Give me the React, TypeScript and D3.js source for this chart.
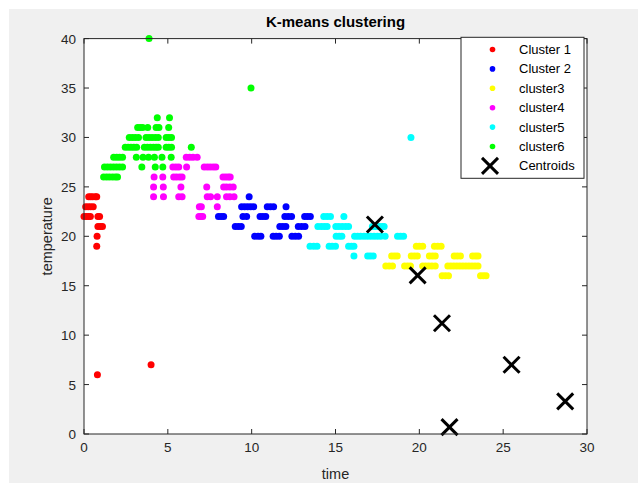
import React from "react";
import * as d3 from "d3";

// Cluster members as [time, temperature]
const cluster1: [number, number][] = [
  [0.28, 24], [0.4, 24], [0.52, 24], [0.68, 24], [0.76, 24],
  [0.1, 23], [0.25, 23], [0.4, 23], [0.55, 23],
  [0.0, 22], [0.13, 22], [0.26, 22], [0.38, 22], [0.83, 22], [0.93, 22],
  [0.83, 21], [0.97, 21], [1.1, 21],
  [0.78, 20], [0.76, 19], [0.8, 6], [4.0, 7],
];
const cluster2: [number, number][] = [
  [9.85, 24],
  [9.4, 23], [9.58, 23], [9.76, 23], [9.94, 23], [10.12, 23], [10.93, 23], [11.12, 23], [11.31, 23], [12.05, 23],
  [8.02, 22], [8.18, 22], [8.33, 22], [9.48, 22], [9.7, 22], [10.5, 22], [10.67, 22], [10.84, 22],
  [11.98, 22], [12.18, 22], [12.38, 22], [13.16, 22], [13.33, 22], [13.5, 22],
  [9.02, 21], [9.2, 21], [9.38, 21], [11.68, 21], [11.86, 21], [12.04, 21], [12.78, 21], [12.98, 21], [13.18, 21],
  [10.18, 20], [10.38, 20], [10.55, 20], [11.28, 20], [11.46, 20], [11.65, 20], [12.4, 20], [12.6, 20], [12.8, 20],
];
const cluster3: [number, number][] = [
  [19.82, 19], [20.0, 19], [20.2, 19], [20.9, 19], [21.1, 19], [21.3, 19],
  [18.35, 18], [18.52, 18], [18.68, 18], [19.52, 18], [19.7, 18], [19.88, 18], [20.6, 18], [20.78, 18], [20.95, 18],
  [22.08, 18], [22.26, 18], [22.45, 18], [23.18, 18], [23.35, 18], [23.5, 18],
  [18.0, 17], [18.2, 17], [18.4, 17], [19.12, 17], [19.3, 17], [19.47, 17], [20.2, 17], [20.38, 17], [20.56, 17],
  [20.75, 17], [20.95, 17], [21.7, 17], [21.88, 17], [22.06, 17], [22.24, 17], [22.42, 17], [22.6, 17], [22.78, 17],
  [22.96, 17], [23.14, 17], [23.32, 17], [23.5, 17],
  [21.36, 16], [21.55, 16], [21.74, 16], [23.65, 16], [23.82, 16], [23.98, 16],
];
const cluster4: [number, number][] = [
  [6.1, 28], [6.3, 28], [6.5, 28], [6.75, 28],
  [5.3, 27], [5.48, 27], [5.65, 27], [6.12, 27], [7.17, 27], [7.35, 27], [7.52, 27], [7.7, 27], [7.86, 27],
  [4.18, 26], [4.7, 26], [5.35, 26], [5.52, 26], [5.7, 26], [5.85, 26], [8.29, 26], [8.45, 26], [8.6, 26], [8.72, 26],
  [4.15, 25], [4.73, 25], [5.78, 25], [7.32, 25], [8.33, 25], [8.5, 25], [8.7, 25], [8.9, 25],
  [4.15, 24], [4.74, 24], [5.65, 24], [5.85, 24], [7.35, 24], [7.55, 24], [7.95, 24], [8.5, 24], [8.7, 24], [8.95, 24],
  [6.88, 23], [7.0, 23], [7.95, 23],
  [6.85, 22], [6.97, 22], [7.08, 22],
];
const cluster5: [number, number][] = [
  [19.5, 30],
  [14.3, 22], [14.5, 22], [14.7, 22], [15.5, 22],
  [13.95, 21], [14.15, 21], [14.33, 21], [14.5, 21], [15.02, 21], [15.2, 21], [15.4, 21], [15.6, 21], [15.78, 21],
  [17.2, 21], [17.4, 21], [17.6, 21], [17.78, 21], [17.9, 21],
  [15.04, 20], [15.22, 20], [15.38, 20], [16.14, 20], [16.32, 20], [16.5, 20], [16.7, 20], [16.9, 20], [17.1, 20],
  [17.3, 20], [17.5, 20], [17.7, 20], [17.96, 20], [18.7, 20], [18.88, 20], [19.06, 20],
  [13.48, 19], [13.7, 19], [13.9, 19], [14.62, 19], [14.8, 19], [15.0, 19], [15.78, 19], [15.95, 19], [16.1, 19],
  [16.1, 18], [16.92, 18], [17.08, 18], [17.25, 18],
];
const cluster6: [number, number][] = [
  [3.88, 40], [9.96, 35],
  [4.37, 32], [5.1, 32],
  [3.2, 31], [3.35, 31], [3.5, 31], [3.8, 31], [4.3, 31], [4.47, 31], [5.05, 31],
  [2.7, 30], [2.88, 30], [3.06, 30], [3.25, 30], [3.7, 30], [3.88, 30], [4.06, 30], [4.25, 30], [4.43, 30],
  [4.9, 30], [5.06, 30], [5.22, 30],
  [2.46, 29], [2.63, 29], [2.8, 29], [2.97, 29], [3.14, 29], [3.6, 29], [3.78, 29], [3.96, 29], [4.14, 29],
  [4.3, 29], [4.43, 29], [4.9, 29], [5.06, 29], [5.22, 29], [6.4, 29],
  [1.77, 28], [1.95, 28], [2.12, 28], [2.3, 28], [3.12, 28], [3.52, 28], [3.85, 28], [4.2, 28], [4.65, 28], [5.2, 28],
  [1.22, 27], [1.4, 27], [1.58, 27], [1.76, 27], [1.94, 27], [2.12, 27], [2.3, 27], [3.45, 27], [4.25, 27], [4.7, 27],
  [1.17, 26], [1.35, 26], [1.52, 26], [1.7, 26], [1.87, 26], [2.0, 26],
];
const centroids: [number, number][] = [
  [17.35, 21.2], [19.9, 16.05], [21.35, 11.2], [25.5, 7.0], [28.7, 3.3], [21.8, 0.7],
];

const seriesNames = ["Cluster 1", "Cluster 2", "cluster3", "cluster4", "cluster5", "cluster6"];
const seriesColors = ["#ff0000", "#0000ff", "#ffff00", "#ff00ff", "#00ffff", "#00ff00"];
const seriesData = [cluster1, cluster2, cluster3, cluster4, cluster5, cluster6];

const xTicks = [0, 5, 10, 15, 20, 25, 30];
const yTicks = [0, 5, 10, 15, 20, 25, 30, 35, 40];

const W = 638;
const H = 483;
const left = 84;
const right = 587;
const top = 38.6;
const bottom = 434;
const axisColor = "#262626";
const font = "'Liberation Sans', Arial, Helvetica, sans-serif";

function Cross({ cx, cy, r, sw }: { cx: number; cy: number; r: number; sw: number }) {
  return (
    <g stroke="#000" strokeWidth={sw}>
      <line x1={cx - r} y1={cy - r} x2={cx + r} y2={cy + r} />
      <line x1={cx - r} y1={cy + r} x2={cx + r} y2={cy - r} />
    </g>
  );
}

export default function App() {
  const x = d3.scaleLinear().domain([0, 30]).range([left, right]);
  const y = d3.scaleLinear().domain([0, 40]).range([bottom, top]);
  const tickLen = 5;

  const legendX = 461;
  const legendY = 37.3;
  const legendW = 123;
  const legendH = 141;
  const rowY = (i: number) => 49.5 + i * 19.4;
  const legendItems = [...seriesNames, "Centroids"];

  return (
    <svg
      width={W}
      height={H}
      style={{ position: "absolute", left: 0, top: 0, display: "block" }}
      fontFamily={font}
    >
      <rect x={0} y={0} width={W} height={H} fill="#ffffff" />
      <rect x={9} y={9} width={W - 9} height={H - 9} fill="#f0f0f0" />
      <rect x={left} y={top} width={right - left} height={bottom - top} fill="#ffffff" />

      {/* ticks */}
      <g stroke={axisColor} strokeWidth={1}>
        {xTicks.map((t) => (
          <g key={"xt" + t}>
            <line x1={x(t)} x2={x(t)} y1={bottom} y2={bottom - tickLen} />
            <line x1={x(t)} x2={x(t)} y1={top} y2={top + tickLen} />
          </g>
        ))}
        {yTicks.map((t) => (
          <g key={"yt" + t}>
            <line x1={left} x2={left + tickLen} y1={y(t)} y2={y(t)} />
            <line x1={right} x2={right - tickLen} y1={y(t)} y2={y(t)} />
          </g>
        ))}
      </g>

      {/* cluster points */}
      {seriesData.map((pts, i) => (
        <g key={"s" + i} fill={seriesColors[i]}>
          {pts.map(([t, v], j) => (
            <circle key={j} cx={x(t)} cy={y(v)} r={3.5} />
          ))}
        </g>
      ))}

      {/* centroids */}
      {centroids.map(([t, v], i) => (
        <Cross key={"c" + i} cx={x(t)} cy={y(v)} r={8} sw={3} />
      ))}

      {/* axes box */}
      <rect x={left} y={top} width={right - left} height={bottom - top} fill="none" stroke={axisColor} strokeWidth={1} />

      {/* tick labels */}
      <g fill={axisColor} fontSize={13.5}>
        {xTicks.map((t) => (
          <text key={"xl" + t} x={x(t)} y={bottom + 18} textAnchor="middle">
            {t}
          </text>
        ))}
        {yTicks.map((t) => (
          <text key={"yl" + t} x={left - 8} y={y(t) + 5} textAnchor="end">
            {t}
          </text>
        ))}
      </g>

      {/* axis labels and title */}
      <text x={(left + right) / 2} y={479} textAnchor="middle" fontSize={14.5} fill={axisColor}>
        time
      </text>
      <text
        transform={`translate(52, ${(top + bottom) / 2}) rotate(-90)`}
        textAnchor="middle"
        fontSize={14.5}
        fill={axisColor}
      >
        temperature
      </text>
      <text x={(left + right) / 2} y={27} textAnchor="middle" fontSize={15} fontWeight="bold" fill="#000">
        K-means clustering
      </text>

      {/* legend */}
      <rect x={legendX} y={legendY} width={legendW} height={legendH} fill="#ffffff" stroke={axisColor} strokeWidth={1} />
      {legendItems.map((name, i) => (
        <g key={"lg" + i}>
          {i < 6 ? (
            <circle cx={492.5} cy={rowY(i)} r={2.8} fill={seriesColors[i]} />
          ) : (
            <Cross cx={490} cy={rowY(i)} r={8} sw={3} />
          )}
          <text x={519} y={rowY(i) + 4.5} fontSize={13} fill="#000">
            {name}
          </text>
        </g>
      ))}
    </svg>
  );
}
